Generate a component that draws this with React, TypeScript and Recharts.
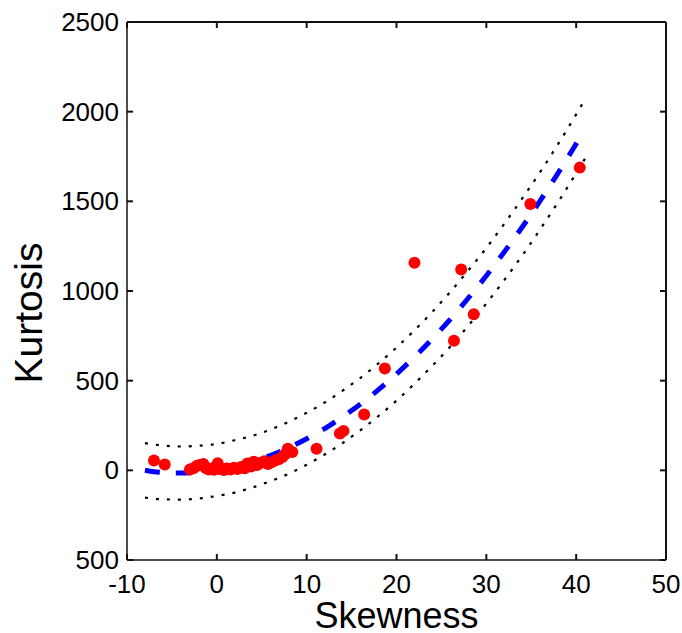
import React from 'react';
import { ComposedChart, Scatter, Line, XAxis, YAxis, ReferenceLine } from 'recharts';

const xTicks = [-10, 0, 10, 20, 30, 40, 50];
const yTicks = [-500, 0, 500, 1000, 1500, 2000, 2500];

const skewness = [
  -7.0, -5.8, -3.0, -2.6, -2.2, -1.9, -1.5, -1.2, -0.9, -0.6, -0.3, 0.1, 0.4, 0.8, 1.1, 1.5, 1.9, 2.3, 2.7, 3.1,
  3.4, 3.8, 4.1, 4.5, 4.9, 5.3, 5.7, 6.1, 6.5, 6.9, 7.3, 7.6, 7.9, 8.4, 11.1, 13.7, 14.1, 16.4, 18.7, 22.0,
  26.4, 27.2, 28.6, 34.9, 40.4,
];
const kurtosis = [
  55, 33, 5, 12, 25, 30, 35, 12, 5, 10, 3, 40, 6, 2, 10, 5, 14, 8, 18, 12,
  38, 22, 48, 30, 42, 50, 35, 45, 55, 62, 75, 90, 121, 102, 121, 205, 220, 311, 568, 1158,
  722, 1120, 870, 1485, 1688,
];

const fitX = [-8, -7, -6, -4, -2, 0, 2, 4, 6, 8, 10, 12, 14, 16, 18, 20, 22, 24, 26, 28, 30, 32, 34, 36, 38, 40, 40.9];
const fitY = [0, -8, -12, -15, -10, 2, 22, 49, 84, 126, 176, 233, 298, 370, 450, 537, 632, 734, 843, 961, 1085, 1218, 1357, 1504, 1659, 1821, 1898];

const boundX = [-8, -6, -4, -2, 0, 2, 4, 6, 8, 10, 12, 14, 16, 18, 20, 22, 24, 26, 28, 30, 32, 34, 36, 38, 40, 41];
const upperY = [152, 138, 133, 137, 147, 168, 193, 228, 271, 321, 378, 444, 516, 597, 685, 781, 884, 996, 1115, 1240, 1375, 1516, 1664, 1820, 1985, 2070];
const lowerY = [-152, -162, -163, -157, -143, -124, -95, -60, -19, 31, 88, 152, 224, 303, 389, 483, 584, 690, 807, 930, 1061, 1198, 1344, 1497, 1657, 1740];

const points = skewness.map((x, i) => ({ x, y: kurtosis[i] }));
const fitData = fitX.map((x, i) => ({ x, y: fitY[i] }));
const upperData = boundX.map((x, i) => ({ x, y: upperY[i] }));
const lowerData = boundX.map((x, i) => ({ x, y: lowerY[i] }));

const FONT = '"Liberation Sans", Arial, Helvetica, sans-serif';

const CHART_W = 682;
const CHART_H = 633;
const MARGIN = { top: 22, right: 16, bottom: 0, left: 0 };
const YAXIS_W = 127;
const XAXIS_H = 73;
const PLOT_W = CHART_W - MARGIN.left - MARGIN.right - YAXIS_W;
const PLOT_H = CHART_H - MARGIN.top - MARGIN.bottom - XAXIS_H;

const TICK_FONT = 26;
const TICK_LEN = 6;
const Y_TICK_GAP = 8;
const X_TICK_GAP = 14;
const FRAME = '#111111';
const FRAME_W = 2;

const LeftTick = (props: any) => {
  const { x, y, payload } = props;
  const ax = Number(x) + Y_TICK_GAP;
  const yy = Number(y);
  return (
    <g>
      <path d={`M${ax},${yy}h${TICK_LEN}`} stroke={FRAME} strokeWidth={FRAME_W} fill="none" />
      <path d={`M${ax + PLOT_W},${yy}h${-TICK_LEN}`} stroke={FRAME} strokeWidth={FRAME_W} fill="none" />
      <text x={x} y={y} textAnchor="end" dominantBaseline="central" fontSize={TICK_FONT} fill="#000" fontFamily={FONT}>
        {String(Math.abs(payload.value))}
      </text>
    </g>
  );
};

const BottomTick = (props: any) => {
  const { x, y, payload } = props;
  const xx = Number(x);
  const ay = Number(y) - X_TICK_GAP;
  return (
    <g>
      <path d={`M${xx},${ay}v${-TICK_LEN}`} stroke={FRAME} strokeWidth={FRAME_W} fill="none" />
      <path d={`M${xx},${ay - PLOT_H}v${TICK_LEN}`} stroke={FRAME} strokeWidth={FRAME_W} fill="none" />
      <text x={x} y={Number(y) + 18.5} textAnchor="middle" fontSize={TICK_FONT} fill="#000" fontFamily={FONT}>
        {String(payload.value)}
      </text>
    </g>
  );
};

const Dot = (props: any) => {
  const { cx, cy } = props;
  if (cx == null || cy == null) return null;
  return <circle cx={cx} cy={cy} r={6} fill="#ff0000" />;
};

const YLabel = (props: any) => {
  const vb = props.viewBox || {};
  const cx = (vb.x || 0) + 28;
  const cy = (vb.y || 0) + (vb.height || 0) / 2 + 22;
  return (
    <text
      x={cx}
      y={cy}
      transform={`rotate(-90 ${cx} ${cy})`}
      textAnchor="middle"
      dominantBaseline="central"
      fontSize={39}
      fill="#000"
      fontFamily={FONT}
    >
      Kurtosis
    </text>
  );
};

export default function App() {
  return (
    <div style={{ position: 'absolute', left: 0, top: 0, background: '#fff' }}>
      <ComposedChart width={CHART_W} height={CHART_H} margin={MARGIN} style={{ fontFamily: FONT }}>
        <XAxis
          type="number"
          dataKey="x"
          domain={[-10, 50]}
          ticks={xTicks}
          allowDataOverflow
          height={XAXIS_H}
          tickSize={0}
          tickMargin={X_TICK_GAP}
          tick={<BottomTick />}
          axisLine={{ stroke: FRAME, strokeWidth: 1.5 }}
          tickLine={false}
          interval={0}
          label={{ value: 'Skewness', position: 'insideBottom', offset: 5, fontSize: 36, fill: '#000', fontFamily: FONT }}
        />
        <YAxis
          type="number"
          dataKey="y"
          domain={[-500, 2500]}
          ticks={yTicks}
          allowDataOverflow
          width={YAXIS_W}
          tickSize={0}
          tickMargin={Y_TICK_GAP}
          tick={<LeftTick />}
          axisLine={{ stroke: FRAME, strokeWidth: 1.5 }}
          tickLine={false}
          interval={0}
          label={<YLabel />}
        />
        <ReferenceLine y={2500} stroke={FRAME} strokeWidth={FRAME_W} ifOverflow="visible" />
        <ReferenceLine x={50} stroke={FRAME} strokeWidth={FRAME_W} ifOverflow="visible" />
        <Scatter data={points} dataKey="y" shape={<Dot />} isAnimationActive={false} />
        <Line
          data={upperData}
          dataKey="y"
          type="monotone"
          stroke="#000"
          strokeWidth={2.2}
          strokeDasharray="3 8"
          dot={false}
          activeDot={false}
          isAnimationActive={false}
        />
        <Line
          data={lowerData}
          dataKey="y"
          type="monotone"
          stroke="#000"
          strokeWidth={2.2}
          strokeDasharray="3 8"
          dot={false}
          activeDot={false}
          isAnimationActive={false}
        />
        <Line
          data={fitData}
          dataKey="y"
          type="monotone"
          stroke="#0000ff"
          strokeWidth={5}
          strokeDasharray="15 16"
          dot={false}
          activeDot={false}
          isAnimationActive={false}
        />
      </ComposedChart>
    </div>
  );
}
